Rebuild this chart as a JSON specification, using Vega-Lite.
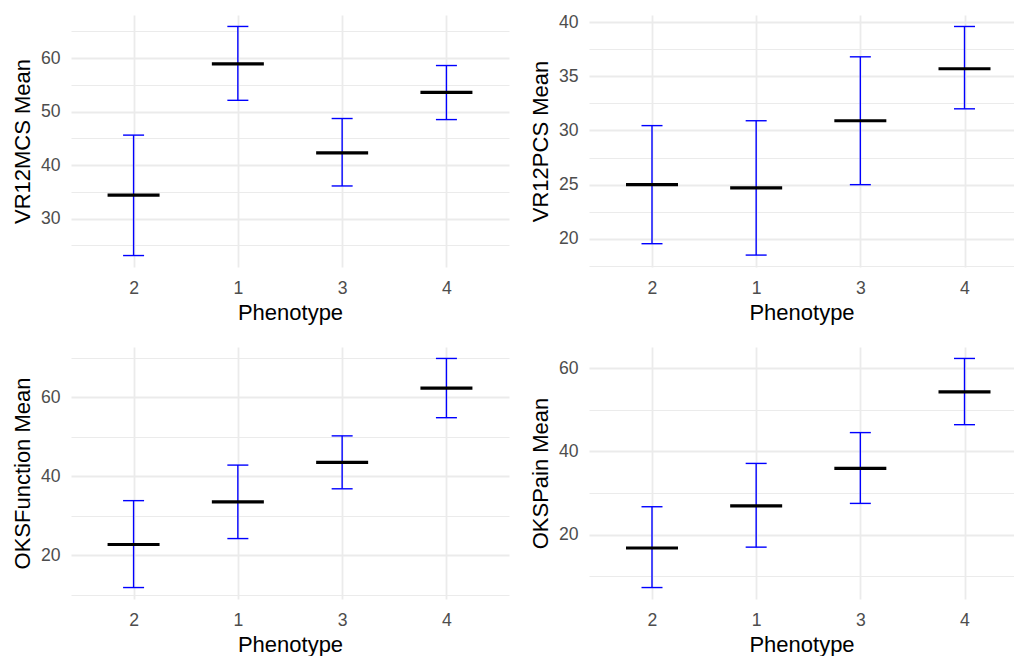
{
  "$schema": "https://vega.github.io/schema/vega-lite/v6.json",
  "padding": {"left": 11, "top": 13, "right": 0, "bottom": 0},
  "background": "white",
  "datasets": {
    "d": [
      {"measure": "VR12MCS", "Phenotype": "2", "mean": 34.4, "lower": 23.1, "upper": 45.6},
      {"measure": "VR12MCS", "Phenotype": "1", "mean": 58.9, "lower": 52.1, "upper": 65.9},
      {"measure": "VR12MCS", "Phenotype": "3", "mean": 42.3, "lower": 36.1, "upper": 48.7},
      {"measure": "VR12MCS", "Phenotype": "4", "mean": 53.6, "lower": 48.5, "upper": 58.6},
      {"measure": "VR12PCS", "Phenotype": "2", "mean": 25.0, "lower": 19.55, "upper": 30.45},
      {"measure": "VR12PCS", "Phenotype": "1", "mean": 24.7, "lower": 18.5, "upper": 30.9},
      {"measure": "VR12PCS", "Phenotype": "3", "mean": 30.9, "lower": 25.0, "upper": 36.8},
      {"measure": "VR12PCS", "Phenotype": "4", "mean": 35.7, "lower": 32.0, "upper": 39.6},
      {"measure": "OKSFunction", "Phenotype": "2", "mean": 22.7, "lower": 11.8, "upper": 33.8},
      {"measure": "OKSFunction", "Phenotype": "1", "mean": 33.5, "lower": 24.2, "upper": 42.8},
      {"measure": "OKSFunction", "Phenotype": "3", "mean": 43.5, "lower": 36.8, "upper": 50.2},
      {"measure": "OKSFunction", "Phenotype": "4", "mean": 62.3, "lower": 54.8, "upper": 69.8},
      {"measure": "OKSPain", "Phenotype": "2", "mean": 16.8, "lower": 7.3, "upper": 26.7},
      {"measure": "OKSPain", "Phenotype": "1", "mean": 26.9, "lower": 17.0, "upper": 37.1},
      {"measure": "OKSPain", "Phenotype": "3", "mean": 35.9, "lower": 27.5, "upper": 44.5},
      {"measure": "OKSPain", "Phenotype": "4", "mean": 54.3, "lower": 46.4, "upper": 62.3}
    ]
  },
  "columns": 2,
  "align": "each",
  "spacing": {"row": 23, "column": 20},
  "concat": [
    {
      "width": 438, "height": 252,
      "data": {"name": "d"},
      "transform": [{"filter": "datum.measure === 'VR12MCS'"}],
      "encoding": {
        "x": {"field": "Phenotype", "type": "ordinal", "sort": ["2", "1", "3", "4"], "title": "Phenotype",
              "scale": {"type": "point", "padding": 0.6}, "axis": {"grid": true}}
      },
      "layer": [
        {"mark": {"type": "rule", "color": "#0000ff", "strokeWidth": 1.4},
         "encoding": {"y": {"field": "lower", "type": "quantitative", "title": "VR12MCS Mean",
                            "scale": {"domain": [20.96, 68.04], "nice": false, "zero": false},
                            "axis": {"values": [25, 30, 35, 40, 45, 50, 55, 60, 65], "tickCount": 30,
                                     "labelExpr": "datum.value % 10 === 0 ? datum.label : ''",
                                     "gridWidth": {"condition": {"test": "datum.value % 10 !== 0", "value": 1.2}, "value": 1.8}}},
                      "y2": {"field": "upper"}}},
        {"mark": {"type": "tick", "color": "#0000ff", "thickness": 1.4, "size": 21},
         "encoding": {"y": {"field": "upper", "type": "quantitative", "title": "VR12MCS Mean"}}},
        {"mark": {"type": "tick", "color": "#0000ff", "thickness": 1.4, "size": 21},
         "encoding": {"y": {"field": "lower", "type": "quantitative", "title": "VR12MCS Mean"}}},
        {"mark": {"type": "tick", "color": "black", "thickness": 3.2, "size": 52},
         "encoding": {"y": {"field": "mean", "type": "quantitative", "title": "VR12MCS Mean"}}}
      ]
    },
    {
      "width": 425, "height": 252,
      "data": {"name": "d"},
      "transform": [{"filter": "datum.measure === 'VR12PCS'"}],
      "encoding": {
        "x": {"field": "Phenotype", "type": "ordinal", "sort": ["2", "1", "3", "4"], "title": "Phenotype",
              "scale": {"type": "point", "padding": 0.54, "align": 0.56}, "axis": {"grid": true}}
      },
      "layer": [
        {"mark": {"type": "rule", "color": "#0000ff", "strokeWidth": 1.4},
         "encoding": {"y": {"field": "lower", "type": "quantitative", "title": "VR12PCS Mean",
                            "scale": {"domain": [17.4, 40.66], "nice": false, "zero": false},
                            "axis": {"values": [17.5, 20, 22.5, 25, 27.5, 30, 32.5, 35, 37.5, 40], "tickCount": 30,
                                     "labelExpr": "datum.value % 5 === 0 ? datum.label : ''",
                                     "gridWidth": {"condition": {"test": "datum.value % 5 !== 0", "value": 1.2}, "value": 1.8}}},
                      "y2": {"field": "upper"}}},
        {"mark": {"type": "tick", "color": "#0000ff", "thickness": 1.4, "size": 21},
         "encoding": {"y": {"field": "upper", "type": "quantitative", "title": "VR12PCS Mean"}}},
        {"mark": {"type": "tick", "color": "#0000ff", "thickness": 1.4, "size": 21},
         "encoding": {"y": {"field": "lower", "type": "quantitative", "title": "VR12PCS Mean"}}},
        {"mark": {"type": "tick", "color": "black", "thickness": 3.2, "size": 52},
         "encoding": {"y": {"field": "mean", "type": "quantitative", "title": "VR12PCS Mean"}}}
      ]
    },
    {
      "width": 438, "height": 252,
      "data": {"name": "d"},
      "transform": [{"filter": "datum.measure === 'OKSFunction'"}],
      "encoding": {
        "x": {"field": "Phenotype", "type": "ordinal", "sort": ["2", "1", "3", "4"], "title": "Phenotype",
              "scale": {"type": "point", "padding": 0.6}, "axis": {"grid": true}}
      },
      "layer": [
        {"mark": {"type": "rule", "color": "#0000ff", "strokeWidth": 1.4},
         "encoding": {"y": {"field": "lower", "type": "quantitative", "title": "OKSFunction Mean",
                            "scale": {"domain": [8.9, 72.7], "nice": false, "zero": false},
                            "axis": {"values": [10, 20, 30, 40, 50, 60, 70], "tickCount": 30,
                                     "labelExpr": "datum.value % 20 === 0 ? datum.label : ''",
                                     "gridWidth": {"condition": {"test": "datum.value % 20 !== 0", "value": 1.2}, "value": 1.8}}},
                      "y2": {"field": "upper"}}},
        {"mark": {"type": "tick", "color": "#0000ff", "thickness": 1.4, "size": 21},
         "encoding": {"y": {"field": "upper", "type": "quantitative", "title": "OKSFunction Mean"}}},
        {"mark": {"type": "tick", "color": "#0000ff", "thickness": 1.4, "size": 21},
         "encoding": {"y": {"field": "lower", "type": "quantitative", "title": "OKSFunction Mean"}}},
        {"mark": {"type": "tick", "color": "black", "thickness": 3.2, "size": 52},
         "encoding": {"y": {"field": "mean", "type": "quantitative", "title": "OKSFunction Mean"}}}
      ]
    },
    {
      "width": 425, "height": 252,
      "data": {"name": "d"},
      "transform": [{"filter": "datum.measure === 'OKSPain'"}],
      "encoding": {
        "x": {"field": "Phenotype", "type": "ordinal", "sort": ["2", "1", "3", "4"], "title": "Phenotype",
              "scale": {"type": "point", "padding": 0.54, "align": 0.56}, "axis": {"grid": true}}
      },
      "layer": [
        {"mark": {"type": "rule", "color": "#0000ff", "strokeWidth": 1.4},
         "encoding": {"y": {"field": "lower", "type": "quantitative", "title": "OKSPain Mean",
                            "scale": {"domain": [4.55, 65.05], "nice": false, "zero": false},
                            "axis": {"values": [10, 20, 30, 40, 50, 60], "tickCount": 30,
                                     "labelExpr": "datum.value % 20 === 0 ? datum.label : ''",
                                     "gridWidth": {"condition": {"test": "datum.value % 20 !== 0", "value": 1.2}, "value": 1.8}}},
                      "y2": {"field": "upper"}}},
        {"mark": {"type": "tick", "color": "#0000ff", "thickness": 1.4, "size": 21},
         "encoding": {"y": {"field": "upper", "type": "quantitative", "title": "OKSPain Mean"}}},
        {"mark": {"type": "tick", "color": "#0000ff", "thickness": 1.4, "size": 21},
         "encoding": {"y": {"field": "lower", "type": "quantitative", "title": "OKSPain Mean"}}},
        {"mark": {"type": "tick", "color": "black", "thickness": 3.2, "size": 52},
         "encoding": {"y": {"field": "mean", "type": "quantitative", "title": "OKSPain Mean"}}}
      ]
    }
  ],
  "config": {
    "view": {"stroke": null},
    "font": "Liberation Sans",
    "tick": {"opacity": 1},
    "axis": {
      "domain": false,
      "ticks": false,
      "gridColor": "#ebebeb",
      "gridWidth": 1.8,
      "labelFont": "Liberation Sans",
      "labelFontSize": 17.6,
      "labelColor": "#4d4d4d",
      "labelPadding": 11,
      "labelOverlap": false,
      "titleFont": "Liberation Sans",
      "titleFontSize": 22,
      "titleFontWeight": "normal",
      "titleColor": "#000000",
      "titlePadding": 6
    },
    "axisX": {"labelAngle": 0, "labelPadding": 12, "titlePadding": 6},
    "axisY": {"labelPadding": 11, "titlePadding": 6}
  }
}
